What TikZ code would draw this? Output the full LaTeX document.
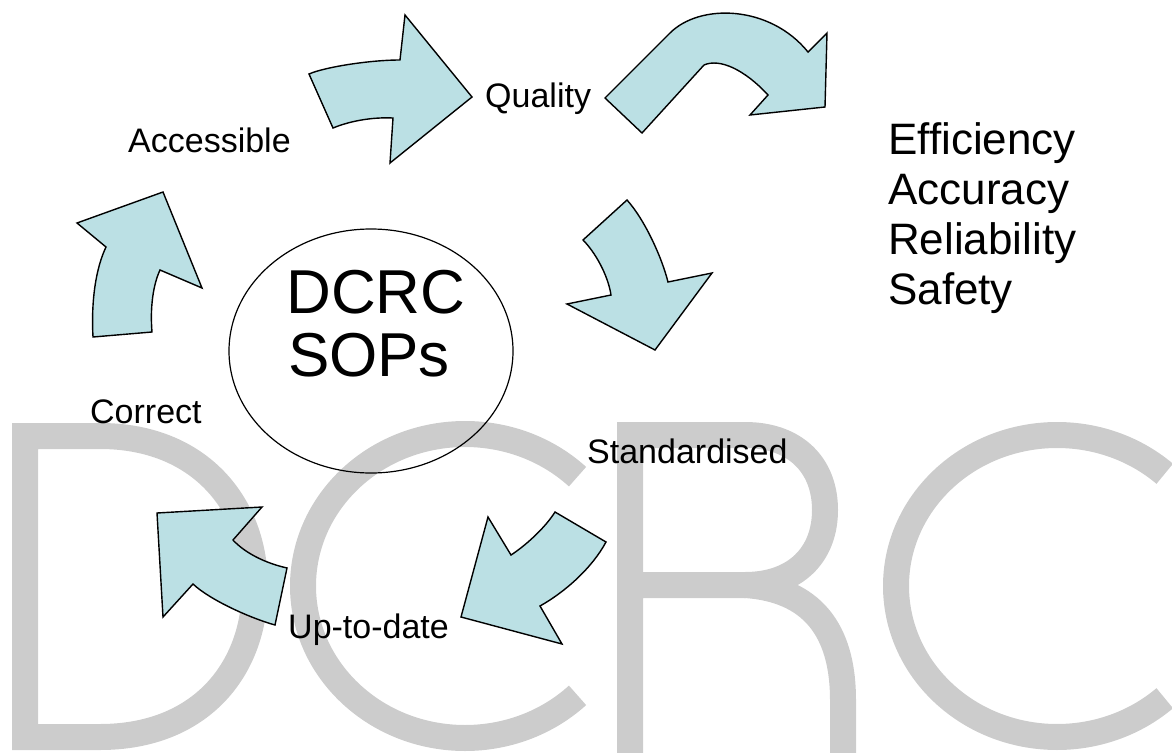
\documentclass[tikz,border=0pt]{standalone}
\usepackage{fontspec}
\setmainfont{Liberation Sans}
\definecolor{arrowblue}{RGB}{187,224,228}
\definecolor{wmgrey}{RGB}{204,204,204}
\tikzset{
  bluearrow/.style={draw=black, line width=1.4pt, fill=arrowblue, line join=miter},
  wmark/.style={draw=wmgrey, line width=26pt, line join=miter},
  lbl/.style={font=\fontsize{34}{40}\selectfont, inner sep=0pt, anchor=base west},
  biglbl/.style={font=\fontsize{44}{50}\selectfont, inner sep=0pt, anchor=base west},
  hub/.style={draw=black, line width=1.2pt, ellipse, minimum width=284pt, minimum height=244pt, inner sep=0pt}
}
\usetikzlibrary{shapes.geometric}
\begin{document}
\begin{tikzpicture}[x=1pt,y=-1pt]
\useasboundingbox (0,0) rectangle (1172,752);
\begin{scope}
\clip (0,0) rectangle (1172,752);
% watermark DCRC
\draw[wmark] (25,436) -- (100,436) .. controls (200,436) and (255,505) .. (255,586)
  .. controls (255,670) and (200,737) .. (100,737) -- (25,737) -- cycle;
\draw[wmark] (465,586) ++(-46:162 and 152) arc[start angle=-46, end angle=-314, x radius=162, y radius=152];
\draw[wmark] (630,770) -- (630,435) -- (745,435) .. controls (795,435) and (825,465) .. (825,510)
  .. controls (825,555) and (795,585) .. (745,585) -- (630,585);
\draw[wmark] (745,585) .. controls (820,590) and (843,640) .. (843,700) -- (843,770);
\draw[wmark] (1057,586) ++(-48:161 and 151) arc[start angle=-48, end angle=-312, x radius=161, y radius=151];
\end{scope}

% arrows
\draw[bluearrow] (309,74) .. controls (325,67) and (370,60) .. (400,60) -- (405,15) -- (472,97)
  -- (390,163) -- (393,118) .. controls (372,117) and (350,121) .. (333,128) -- cycle;
\draw[bluearrow] (605,98) -- (670,33) .. controls (700,3) and (770,5) .. (808,52) -- (827,33)
  -- (825,107) -- (750,115) -- (768,95) .. controls (745,70) and (720,58) .. (704,65) -- (642,133) -- cycle;
\draw[bluearrow] (627,200) -- (583,240) .. controls (595,252) and (608,275) .. (611,295) -- (567,304)
  -- (655,350) -- (712,273) -- (668,282) .. controls (662,258) and (645,220) .. cycle;
\draw[bluearrow] (555,512) -- (606,542) .. controls (592,568) and (565,592) .. (540,606) -- (562,644)
  -- (461,617) -- (488,517) -- (511,555) .. controls (525,546) and (545,528) .. cycle;
\draw[bluearrow] (157,513) -- (262,507) -- (233,540) .. controls (245,553) and (265,563) .. (287,568)
  -- (275,625) .. controls (250,618) and (210,600) .. (193,584) -- (163,617) -- cycle;
\draw[bluearrow] (93,337) -- (152,332) .. controls (150,308) and (153,285) .. (160,270) -- (202,288)
  -- (163,192) -- (77,223) -- (106,247) .. controls (96,268) and (91,300) .. cycle;

% centre
\node[hub] (hub) at (371,351) {};
\node[font=\fontsize{62}{62}\selectfont, inner sep=0pt, anchor=base] (dcrc) at (376,313) {DCRC};
\node[font=\fontsize{62}{62}\selectfont, inner sep=0pt, anchor=base] (sops) at (369,376) {SOPs};

% labels
\node[lbl] (accessible) at (128,152) {Accessible};
\node[lbl] (quality) at (485,107) {Quality};
\node[lbl] (correct) at (90,423) {Correct};
\node[lbl] (standard) at (587,463) {Standardised};
\node[lbl] (uptodate) at (288,638) {Up-to-date};
\node[biglbl] (eff) at (888,154) {Efficiency};
\node[biglbl] (acc) at (888,204) {Accuracy};
\node[biglbl] (rel) at (888,254) {Reliability};
\node[biglbl] (saf) at (888,304) {Safety};
\end{tikzpicture}
\end{document}
